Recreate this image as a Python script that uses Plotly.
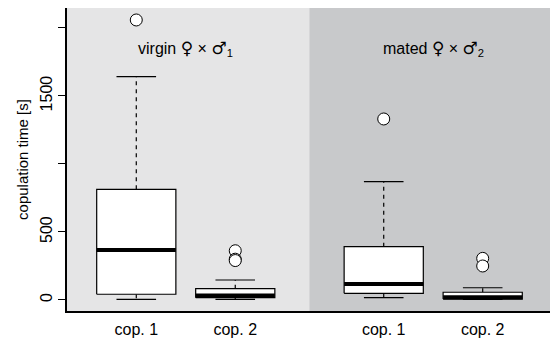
import plotly.graph_objects as go

# ---- data ----
groups = ["virgin", "virgin", "mated", "mated"]
tick_labels = ["cop. 1", "cop. 2", "cop. 1", "cop. 2"]
lower_whisker = [5, 5, 17, 5]
q1 = [42, 17, 49, 7]
median = [368, 33, 118, 20]
q3 = [814, 83, 392, 57]
upper_whisker = [1642, 147, 870, 90]
outliers = [[2059], [362, 300, 290], [1331], [306, 250]]
y_labeled_ticks = [0, 500, 1500]
y_unlabeled_ticks = [1000, 2000]
panel_titles = ["virgin <span style='font-family:DejaVu Sans;font-size:17px'>\u2640</span> \u00d7 "
                "<span style='font-family:DejaVu Sans;font-size:17px'>\u2642</span><sub>1</sub>",
                "mated <span style='font-family:DejaVu Sans;font-size:17px'>\u2640</span> \u00d7 "
                "<span style='font-family:DejaVu Sans;font-size:17px'>\u2642</span><sub>2</sub>"]

# ---- layout-only values ----
positions = [1, 2, 3.5, 4.5]
half_w = 0.4
x_range = [0.3, 5.18]
y_range = [-81, 2147]
split = 2.75
FONT = "Liberation Sans"
FS = 16

fig = go.Figure()

for i, xc in enumerate(positions):
    # whiskers (dashed)
    fig.add_trace(go.Scatter(x=[xc, xc, None, xc, xc],
                             y=[q3[i], upper_whisker[i], None, q1[i], lower_whisker[i]],
                             mode="lines", line=dict(color="black", width=1.2, dash="4px,4px"),
                             hoverinfo="skip", showlegend=False))
    # caps
    fig.add_trace(go.Scatter(x=[xc - half_w / 2, xc + half_w / 2, None, xc - half_w / 2, xc + half_w / 2],
                             y=[upper_whisker[i], upper_whisker[i], None, lower_whisker[i], lower_whisker[i]],
                             mode="lines", line=dict(color="black", width=1.2),
                             hoverinfo="skip", showlegend=False))
    # box
    fig.add_trace(go.Scatter(x=[xc - half_w, xc + half_w, xc + half_w, xc - half_w, xc - half_w],
                             y=[q1[i], q1[i], q3[i], q3[i], q1[i]],
                             mode="lines", fill="toself", fillcolor="white",
                             line=dict(color="black", width=1.2),
                             hoverinfo="skip", showlegend=False))
    # median
    fig.add_trace(go.Scatter(x=[xc - half_w, xc + half_w], y=[median[i], median[i]],
                             mode="lines", line=dict(color="black", width=4),
                             hoverinfo="skip", showlegend=False))
    # outliers
    fig.add_trace(go.Scatter(x=[xc] * len(outliers[i]), y=outliers[i], mode="markers",
                             marker=dict(symbol="circle", size=12, color="white",
                                         line=dict(color="black", width=1)),
                             hoverinfo="skip", showlegend=False))

# darker panel for the mated group
fig.add_shape(type="rect", xref="x", yref="y", x0=split, x1=x_range[1], y0=y_range[0], y1=y_range[1],
              fillcolor="#c8c9cb", line=dict(width=0), layer="below")

fig.add_annotation(x=(positions[0] + positions[1]) / 2, y=1850, text=panel_titles[0], showarrow=False,
                   font=dict(family=FONT, size=FS, color="black"))
fig.add_annotation(x=(positions[2] + positions[3]) / 2, y=1850, text=panel_titles[1], showarrow=False,
                   font=dict(family=FONT, size=FS, color="black"))

fig.update_layout(
    width=550, height=341,
    margin=dict(l=67, r=0, t=8, b=30),
    paper_bgcolor="white", plot_bgcolor="#e5e5e6",
    font=dict(family=FONT, size=FS, color="black"),
    showlegend=False,
    xaxis=dict(range=x_range, tickvals=positions, ticktext=tick_labels, showgrid=False, zeroline=False,
               showline=True, linecolor="black", linewidth=1.5, ticks="outside", ticklen=3,
               tickcolor="rgba(0,0,0,0)", tickfont=dict(size=FS)),
    yaxis=dict(range=y_range, tickvals=y_labeled_ticks,
               showgrid=False, zeroline=False, showline=True, linecolor="black", linewidth=1.5,
               ticks="outside", ticklen=7, tickwidth=1.2, tickcolor="black", tickangle=-90,
               tickfont=dict(size=FS),
               minor=dict(tickvals=y_unlabeled_ticks, ticks="outside", ticklen=7, tickwidth=1.2,
                          tickcolor="black", showgrid=False),
               title=dict(text="copulation time [s]", font=dict(size=FS - 1), standoff=6)),
)

fig.write_html("out.html", post_script="document.body.style.margin='0px';",
               config={"displayModeBar": False})
